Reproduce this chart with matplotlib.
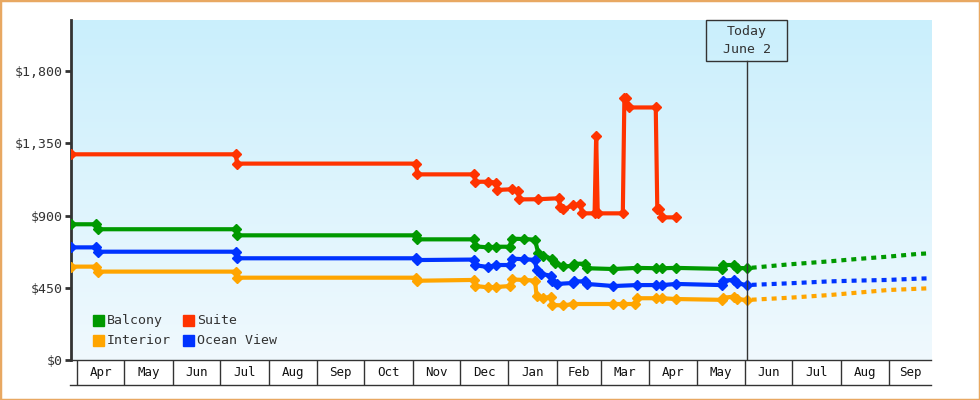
import numpy as np
import matplotlib
matplotlib.use("Agg")
import matplotlib.pyplot as plt
from matplotlib.colors import LinearSegmentedColormap
from matplotlib.patches import Rectangle
from matplotlib.ticker import FuncFormatter

# price history
balcony_dates = ["2024-03-28", "2024-04-13", "2024-04-14", "2024-07-11", "2024-07-12",
                 "2024-11-03", "2024-11-04", "2024-12-10", "2024-12-11", "2024-12-19",
                 "2024-12-24", "2025-01-02", "2025-01-03", "2025-01-11", "2025-01-18",
                 "2025-01-20", "2025-01-23", "2025-01-29", "2025-01-31", "2025-02-05",
                 "2025-02-11", "2025-02-12", "2025-02-19", "2025-02-20", "2025-03-09",
                 "2025-03-24", "2025-04-05", "2025-04-09", "2025-04-18", "2025-05-17",
                 "2025-05-18", "2025-05-25", "2025-05-27", "2025-06-02"]
balcony_prices = [846, 846, 815, 815, 777, 777, 752, 752, 708, 702,
                  706, 706, 756, 754, 750, 667, 650, 630, 605, 584,
                  586, 600, 600, 572, 567, 574, 572, 572, 574, 568,
                  592, 592, 574, 572]

interior_dates = ["2024-03-28", "2024-04-13", "2024-04-14", "2024-07-11", "2024-07-12",
                  "2024-11-03", "2024-11-04", "2024-12-10", "2024-12-11", "2024-12-19",
                  "2024-12-24", "2025-01-02", "2025-01-03", "2025-01-11", "2025-01-18",
                  "2025-01-19", "2025-01-23", "2025-01-28", "2025-01-29", "2025-02-05",
                  "2025-02-11", "2025-03-09", "2025-03-15", "2025-03-23", "2025-03-24",
                  "2025-04-05", "2025-04-09", "2025-04-18", "2025-05-17", "2025-05-18",
                  "2025-05-25", "2025-05-27", "2025-06-02"]
interior_prices = [582, 582, 551, 551, 513, 513, 494, 499, 461, 453,
                   455, 461, 502, 499, 495, 399, 385, 394, 343, 340,
                   349, 349, 349, 349, 385, 385, 385, 380, 375, 388,
                   395, 380, 374]

ocean_dates = ["2024-03-28", "2024-04-13", "2024-04-14", "2024-07-11", "2024-07-12",
               "2024-11-03", "2024-11-04", "2024-12-10", "2024-12-11", "2024-12-19",
               "2024-12-24", "2025-01-02", "2025-01-03", "2025-01-11", "2025-01-18",
               "2025-01-19", "2025-01-22", "2025-01-28", "2025-01-29", "2025-02-01",
               "2025-02-11", "2025-02-12", "2025-02-19", "2025-02-20", "2025-03-09",
               "2025-03-24", "2025-04-05", "2025-04-09", "2025-04-18", "2025-05-17",
               "2025-05-18", "2025-05-25", "2025-05-27", "2025-06-02"]
ocean_prices = [702, 702, 675, 675, 634, 634, 623, 626, 590, 580,
                592, 592, 632, 628, 624, 560, 537, 525, 490, 474,
                480, 490, 490, 474, 461, 467, 467, 467, 474, 467,
                495, 499, 478, 467]

suite_dates = ["2024-03-28", "2024-07-11", "2024-07-12", "2024-11-03", "2024-11-04",
               "2024-12-10", "2024-12-11", "2024-12-19", "2024-12-24", "2024-12-25",
               "2025-01-03", "2025-01-07", "2025-01-08", "2025-01-20", "2025-02-02",
               "2025-02-03", "2025-02-05", "2025-02-11", "2025-02-16", "2025-02-17",
               "2025-02-25", "2025-02-26", "2025-02-27", "2025-03-15", "2025-03-16",
               "2025-03-17", "2025-03-19", "2025-04-05", "2025-04-06", "2025-04-07",
               "2025-04-09", "2025-04-18"]
suite_prices = [1282, 1282, 1224, 1224, 1157, 1157, 1111, 1111, 1106, 1060,
                1064, 1055, 1001, 1002, 1008, 954, 939, 963, 972, 914,
                914, 1397, 914, 914, 1635, 1635, 1574, 1574, 940, 940,
                889, 889]

# projected prices after today
forecast_dates = ["2025-06-02", "2025-06-29", "2025-07-25", "2025-08-12",
                  "2025-08-31", "2025-09-19", "2025-09-27"]
balcony_forecast = [572, 596, 615, 630, 644, 661, 665]
interior_forecast = [374, 388, 405, 420, 436, 444, 447]
ocean_forecast = [467, 478, 490, 495, 499, 507, 509]

month_labels = ["Apr", "May", "Jun", "Jul", "Aug", "Sep", "Oct", "Nov", "Dec",
                "Jan", "Feb", "Mar", "Apr", "May", "Jun", "Jul", "Aug", "Sep"]
month_starts = ["2024-04-01", "2024-05-01", "2024-06-01", "2024-07-01", "2024-08-01",
                "2024-09-01", "2024-10-01", "2024-11-01", "2024-12-01", "2025-01-01",
                "2025-02-01", "2025-03-01", "2025-04-01", "2025-05-01", "2025-06-01",
                "2025-07-01", "2025-08-01", "2025-09-01"]
y_ticks = [0, 450, 900, 1350, 1800]
today = "2025-06-02"
today_label = "Today\nJune 2"

x_start = np.datetime64("2024-03-28")
x_end = np.datetime64("2025-09-27T14:00")

colors = {"Balcony": "#009900", "Interior": "#ffa500",
          "Ocean View": "#0033ff", "Suite": "#ff3300"}
dark = "#333333"
mono = "DejaVu Sans Mono"


def d(lst):
    return np.array(lst, dtype="datetime64[m]")


W, H = 980, 400
L, R, B, T = 71, 931, 360, 20  # plot box in pixels
fig = plt.figure(figsize=(W / 100, H / 100), dpi=100)
ax = fig.add_axes([L / W, (H - B) / H, (R - L) / W, (B - T) / H])

# background gradient
bg = LinearSegmentedColormap.from_list("bg", ["#caeffc", "#f0f9fe"])
ax.imshow(np.linspace(0, 1, 256).reshape(-1, 1), cmap=bg, extent=[0, 1, 0, 1],
          transform=ax.transAxes, aspect="auto", zorder=0)

series = [("Balcony", balcony_dates, balcony_prices, balcony_forecast),
          ("Interior", interior_dates, interior_prices, interior_forecast),
          ("Ocean View", ocean_dates, ocean_prices, ocean_forecast),
          ("Suite", suite_dates, suite_prices, None)]

for name, dates, prices, fc in series:
    c = colors[name]
    ax.plot(d(dates), prices, color=c, lw=3, marker="D", ms=5.5, mec=c, mfc=c,
            zorder=3, solid_joinstyle="miter")
    if fc is not None:
        ax.plot(d(forecast_dates), fc, color=c, lw=3,
                linestyle=(1.2, (1.2, 1.2)), zorder=3, dash_capstyle="butt")

ax.set_xlim(x_start, x_end)
ax.set_ylim(0, (B - T) * 450 / 72.2)

# today marker
ty0 = (B - 60.7) / (B - T)
ax.axvline(d([today])[0], ymin=0, ymax=ty0, color=dark, lw=1, zorder=4)
ax.add_patch(Rectangle(((706.3 - L) / (R - L), ty0), 80.4 / (R - L), 1 - ty0,
                       transform=ax.transAxes, fill=False, edgecolor=dark, lw=1,
                       clip_on=False, zorder=4))
ax.text(d([today])[0], (ty0 + 1) / 2, today_label, transform=ax.get_xaxis_transform(),
        ha="center", va="center", fontsize=9.5, family=mono, color=dark,
        linespacing=1.45, zorder=5)

# y axis
ax.set_yticks(y_ticks)
ax.yaxis.set_major_formatter(FuncFormatter(lambda v, p: "${:,.0f}".format(v)))
ax.tick_params(axis="y", direction="out", length=4, width=2, color=dark,
               labelcolor=dark, labelsize=9.5, pad=2)
for lab in ax.get_yticklabels():
    lab.set_family(mono)

# x axis: month cells
starts = d(month_starts)
edges = np.append(starts, x_end)
mids = starts + (edges[1:] - starts) / 2
ax.set_xticks(starts)
ax.set_xticklabels([])
ax.tick_params(axis="x", which="major", direction="out", length=18, width=1, color=dark)
ax.set_xticks(mids, minor=True)
ax.set_xticklabels(month_labels, minor=True)
ax.tick_params(axis="x", which="minor", length=0, pad=4, labelsize=9, labelcolor="#111111")
for lab in ax.get_xticklabels(minor=True):
    lab.set_family(mono)
ax.plot([-1 / (R - L), 1], [-25 / (B - T)] * 2, transform=ax.transAxes,
        color=dark, lw=1, clip_on=False)

for s in ["top", "right"]:
    ax.spines[s].set_visible(False)
ax.spines["left"].set_color(dark)
ax.spines["left"].set_linewidth(2)
ax.spines["bottom"].set_color(dark)
ax.spines["bottom"].set_linewidth(1)

# legend drawn by hand: two rows, two columns
legend_items = [("Balcony", 0, 0), ("Suite", 1, 0), ("Interior", 0, 1), ("Ocean View", 1, 1)]
col_x = [93, 183.3]
row_y = [320.5, 340.5]
for name, ci, ri in legend_items:
    x0 = (col_x[ci] - L) / (R - L)
    yc = (B - row_y[ri]) / (B - T)
    ax.add_patch(Rectangle((x0, yc - 5.5 / (B - T)), 11 / (R - L), 11 / (B - T),
                           transform=ax.transAxes, color=colors[name], zorder=5))
    ax.text(x0 + 14 / (R - L), yc, name, transform=ax.transAxes, ha="left", va="center",
            fontsize=9.5, family=mono, color=dark, zorder=5)

# outer border
fig.patches.append(Rectangle((0, 0), 1, 1, transform=fig.transFigure, fill=False,
                             edgecolor="#e8a862", lw=2.5))

fig.savefig("out.png", dpi=100)
